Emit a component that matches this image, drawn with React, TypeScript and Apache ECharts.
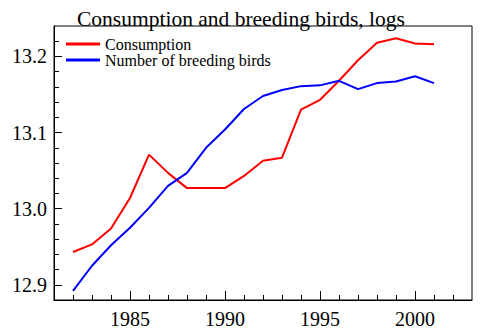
import React, { useEffect, useRef } from "react";
import * as echarts from "echarts";

const years = [1982, 1983, 1984, 1985, 1986, 1987, 1988, 1989, 1990, 1991, 1992, 1993, 1994, 1995, 1996, 1997, 1998, 1999, 2000, 2001];
const consumption = [12.943, 12.953, 12.974, 13.014, 13.071, 13.047, 13.027, 13.027, 13.027, 13.043, 13.063, 13.067, 13.130, 13.143, 13.168, 13.195, 13.218, 13.224, 13.217, 13.216];
const birds = [12.892, 12.925, 12.952, 12.975, 13.001, 13.030, 13.047, 13.080, 13.104, 13.131, 13.148, 13.156, 13.161, 13.162, 13.168, 13.157, 13.165, 13.167, 13.174, 13.165];
const xMajorTicks = [1985, 1990, 1995, 2000];
const xMinorTicks = [1982, 1983, 1984, 1985, 1986, 1987, 1988, 1989, 1990, 1991, 1992, 1993, 1994, 1995, 1996, 1997, 1998, 1999, 2000, 2001, 2002];
const yMajorTicks = [12.9, 13.0, 13.1, 13.2];
const yMinorTicks = [12.9, 12.92, 12.94, 12.96, 12.98, 13.0, 13.02, 13.04, 13.06, 13.08, 13.1, 13.12, 13.14, 13.16, 13.18, 13.2, 13.22];

const FONT = "Liberation Serif";

export default function App() {
  const ref = useRef<HTMLDivElement>(null);
  useEffect(() => {
    if (!ref.current) return;
    const chart = echarts.init(ref.current, null, { renderer: "svg" });
    const baseX = {
      type: "value" as const,
      min: 1981,
      max: 2003,
      splitLine: { show: false },
    };
    const baseY = {
      type: "value" as const,
      min: 12.88,
      max: 13.24,
      splitLine: { show: false },
    };
    chart.setOption({
      animation: false,
      backgroundColor: "#ffffff",
      textStyle: { fontFamily: FONT, color: "#000" },
      title: {
        text: "Consumption and breeding birds, logs",
        left: 72,
        top: 3,
        textStyle: { fontFamily: FONT, fontSize: 21.5, fontWeight: "normal", color: "#000" },
      },
      legend: {
        orient: "vertical",
        left: 66,
        top: 36,
        padding: 0,
        itemWidth: 34,
        itemHeight: 3,
        itemGap: 0,
        icon: "rect",
        data: ["Consumption", "Number of breeding birds"],
        textStyle: { fontFamily: FONT, fontSize: 16, color: "#000", fontWeight: "normal", lineHeight: 14.5 },
      },
      grid: {
        left: 54,
        right: 17,
        top: 26,
        bottom: 31,
        show: true,
        borderColor: "#000",
        borderWidth: 1,
        backgroundColor: "transparent",
      },
      xAxis: [
        {
          ...baseX,
          axisLine: { show: true, lineStyle: { color: "#000", width: 1 } },
          axisTick: { show: true, inside: true, length: 9, customValues: xMajorTicks, lineStyle: { color: "#000" } },
          axisLabel: {
            show: true,
            customValues: xMajorTicks,
            margin: 9,
            fontFamily: FONT,
            fontSize: 20,
            color: "#000",
            formatter: (v: number) => String(Math.round(v)),
          },
        },
        {
          ...baseX,
          position: "bottom",
          offset: 0,
          axisLine: { show: false },
          axisTick: { show: true, inside: true, length: 5, customValues: xMinorTicks, lineStyle: { color: "#000" } },
          axisLabel: { show: false },
        },
      ],
      yAxis: [
        {
          ...baseY,
          axisLine: { show: true, lineStyle: { color: "#000", width: 1 } },
          axisTick: { show: true, inside: true, length: 8, customValues: yMajorTicks, lineStyle: { color: "#000" } },
          axisLabel: {
            show: true,
            customValues: yMajorTicks,
            margin: 7,
            fontFamily: FONT,
            fontSize: 20,
            color: "#000",
            formatter: (v: number) => v.toFixed(1),
          },
        },
        {
          ...baseY,
          position: "left",
          offset: 0,
          axisLine: { show: false },
          axisTick: { show: true, inside: true, length: 5, customValues: yMinorTicks, lineStyle: { color: "#000" } },
          axisLabel: { show: false },
        },
      ],
      series: [
        {
          name: "Consumption",
          type: "line",
          data: years.map((y, i) => [y, consumption[i]]),
          showSymbol: false,
          symbol: "none",
          color: "#ff0000",
          lineStyle: { color: "#ff0000", width: 2 },
        },
        {
          name: "Number of breeding birds",
          type: "line",
          data: years.map((y, i) => [y, birds[i]]),
          showSymbol: false,
          symbol: "none",
          color: "#0000ff",
          lineStyle: { color: "#0000ff", width: 2 },
        },
      ],
    });
    return () => chart.dispose();
  }, []);
  return (
    <div
      ref={ref}
      style={{ position: "fixed", left: 0, top: 0, width: 489, height: 331, background: "#fff" }}
    />
  );
}
